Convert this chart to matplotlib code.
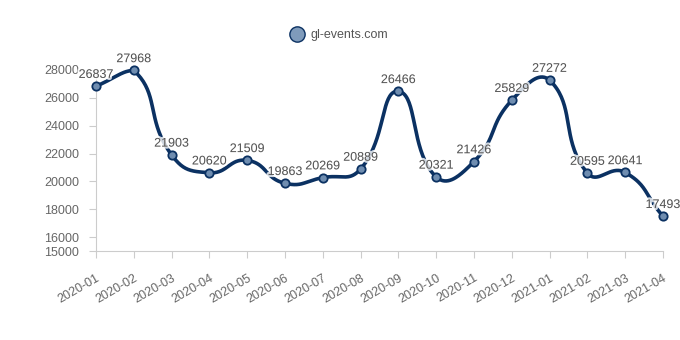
import matplotlib.pyplot as plt
import matplotlib.patheffects as pe
import numpy as np

plt.rcParams['font.family'] = ['Liberation Sans', 'DejaVu Sans']

# Monthly values
months = ['2020-01', '2020-02', '2020-03', '2020-04', '2020-05', '2020-06',
          '2020-07', '2020-08', '2020-09', '2020-10', '2020-11', '2020-12',
          '2021-01', '2021-02', '2021-03', '2021-04']
values = [26837, 27968, 21903, 20620, 21509, 19863, 20269, 20889,
          26466, 20321, 21426, 25829, 27272, 20595, 20641, 17493]
series_name = 'gl-events.com'

line_color = '#0b3162'
marker_face = '#6f8db0'
text_color = '#666666'
axis_color = '#cccccc'

fig = plt.figure(figsize=(6.8, 3.4), dpi=100)
ax = fig.add_axes([96 / 680, 89 / 340, 567 / 680, 181 / 340])

x = np.arange(len(months))
y = np.array(values, dtype=float)
ymin, ymax = 15000, 28000
ax.set_xlim(0, len(months) - 1)
ax.set_ylim(ymin, ymax)

# smooth bezier (smooth=0.5) with control points clamped to the data box
sx = 567 / (len(months) - 1)
sy = 181 / (ymax - ymin)
P = np.column_stack([x * sx, y * sy])
lo = P.min(axis=0)
hi = P.max(axis=0)
smooth = 0.5
n = len(P)
cps = []
for i in range(n):
    prev = P[max(i - 1, 0)]
    nxt = P[min(i + 1, n - 1)]
    cur = P[i]
    v = (nxt - prev) * smooth
    d0 = np.linalg.norm(cur - prev)
    d1 = np.linalg.norm(cur - nxt)
    s = d0 + d1
    if s == 0:
        cps.append((cur, cur))
        continue
    c0 = np.clip(cur - v * d0 / s, lo, hi)
    c1 = np.clip(cur + v * d1 / s, lo, hi)
    cps.append((c0, c1))

cx, cy = [], []
t = np.linspace(0, 1, 40)
for i in range(n - 1):
    p0 = P[i]
    p1 = cps[i][1]
    p2 = cps[i + 1][0]
    p3 = P[i + 1]
    b = ((1 - t) ** 3)[:, None] * p0 + (3 * (1 - t) ** 2 * t)[:, None] * p1 \
        + (3 * (1 - t) * t ** 2)[:, None] * p2 + (t ** 3)[:, None] * p3
    cx.extend(b[:, 0] / sx)
    cy.extend(b[:, 1] / sy)

ax.plot(cx, cy, color=line_color, lw=2.6, solid_capstyle='round', zorder=2, clip_on=False)
ax.plot(x, y, ls='', marker='o', ms=6, mfc=marker_face, mec=line_color, mew=1.3,
        zorder=3, clip_on=False)

halo = [pe.withStroke(linewidth=3, foreground=(1, 1, 1, 0.8))]
for xi, yi in zip(x, values):
    ax.text(xi, yi + 380, str(yi), ha='center', va='bottom', fontsize=9,
            color='#555555', path_effects=halo, zorder=4)

for side in ['top', 'right']:
    ax.spines[side].set_visible(False)
ax.spines['left'].set_color(axis_color)
ax.spines['bottom'].set_color(axis_color)
ax.set_yticks([15000, 16000, 18000, 20000, 22000, 24000, 26000, 28000])
ax.set_xticks(x)
ax.set_xticklabels(months, rotation=30, ha='right', rotation_mode='anchor')
ax.tick_params(axis='both', colors=axis_color, labelcolor=text_color,
               labelsize=9, length=5)
ax.tick_params(axis='x', pad=10)
ax.tick_params(axis='y', pad=7)

# legend at top
fig.legend(handles=[plt.Line2D([], [], ls='', marker='o', ms=11, mfc='#7f9bbb',
                               mec=line_color, mew=1)],
           labels=[series_name], loc='center', bbox_to_anchor=(0.495, 1 - 35 / 340),
           frameon=False, fontsize=9, handletextpad=0.1, labelcolor='#555555')

plt.savefig('out.png')
plt.close()
